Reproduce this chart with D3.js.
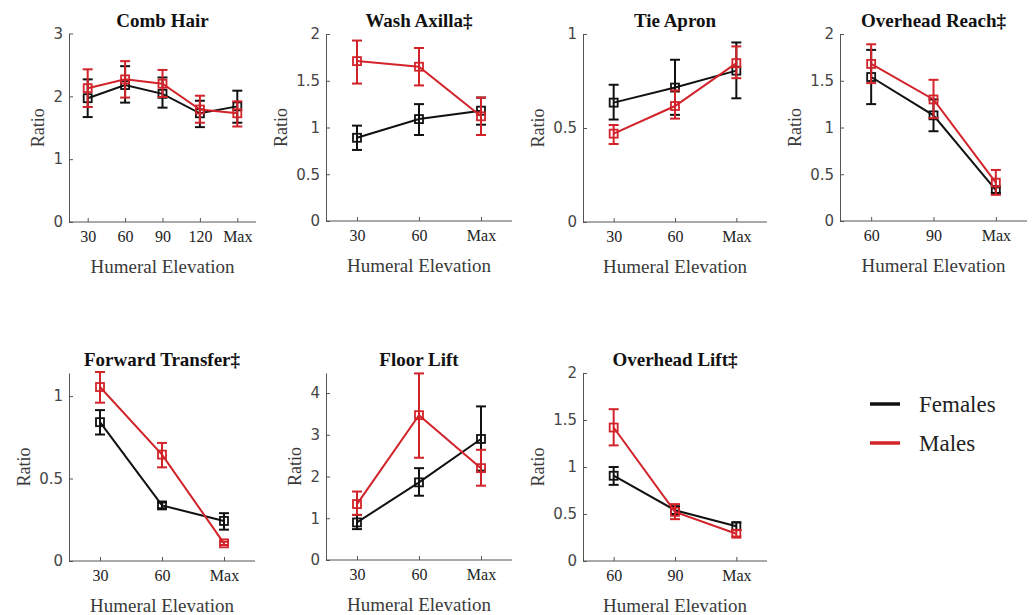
<!DOCTYPE html>
<html>
<head>
<meta charset="utf-8">
<script src="https://cdn.jsdelivr.net/npm/d3@7"></script>
<style>
  body { margin: 0; background: #fff; }
  svg { display: block; }
  .ytick text { font-family: "DejaVu Sans", Verdana, sans-serif; font-size: 15px; fill: #454545; }
  .xtick text { font-family: "Liberation Serif", "Times New Roman", serif; font-size: 16px; fill: #222; }
  .title { font-family: "Liberation Serif", "Times New Roman", serif; font-size: 19px; font-weight: bold; fill: #111; }
  .alabel { font-family: "Liberation Serif", "Times New Roman", serif; font-size: 19px; fill: #3a3a3a; }
  .ylabel { font-family: "Liberation Serif", "Times New Roman", serif; font-size: 18px; fill: #3a3a3a; }
  .legend { font-family: "Liberation Serif", "Times New Roman", serif; font-size: 23px; fill: #222; }
</style>
</head>
<body>
<div id="chart"></div>
<script>
'use strict';

// ---- data ----
const seriesNames = ['Females', 'Males'];

const combHairCats = ['30', '60', '90', '120', 'Max'];
const combHairF    = [1.97, 2.18, 2.04, 1.73, 1.84];
const combHairFLo  = [1.67, 1.90, 1.82, 1.51, 1.58];
const combHairFHi  = [2.27, 2.48, 2.30, 1.93, 2.09];
const combHairM    = [2.13, 2.27, 2.20, 1.79, 1.73];
const combHairMLo  = [1.83, 1.98, 1.99, 1.58, 1.52];
const combHairMHi  = [2.43, 2.56, 2.42, 2.01, 1.92];

const washAxillaCats = ['30', '60', 'Max'];
const washAxillaF    = [0.89, 1.09, 1.18];
const washAxillaFLo  = [0.76, 0.92, 1.03];
const washAxillaFHi  = [1.02, 1.25, 1.32];
const washAxillaM    = [1.71, 1.65, 1.12];
const washAxillaMLo  = [1.47, 1.45, 0.92];
const washAxillaMHi  = [1.93, 1.85, 1.32];

const tieApronCats = ['30', '60', 'Max'];
const tieApronF    = [0.635, 0.715, 0.805];
const tieApronFLo  = [0.545, 0.570, 0.658];
const tieApronFHi  = [0.730, 0.863, 0.955];
const tieApronM    = [0.470, 0.617, 0.845];
const tieApronMLo  = [0.415, 0.550, 0.765];
const tieApronMHi  = [0.516, 0.700, 0.934];

const ohReachCats = ['60', '90', 'Max'];
const ohReachF    = [1.54, 1.13, 0.33];
const ohReachFLo  = [1.25, 0.96, 0.30];
const ohReachFHi  = [1.83, 1.30, 0.36];
const ohReachM    = [1.68, 1.30, 0.41];
const ohReachMLo  = [1.475, 1.10, 0.28];
const ohReachMHi  = [1.89, 1.51, 0.546];

const fwdTransferCats = ['30', '60', 'Max'];
const fwdTransferF    = [0.842, 0.337, 0.243];
const fwdTransferFLo  = [0.767, 0.320, 0.190];
const fwdTransferFHi  = [0.915, 0.355, 0.290];
const fwdTransferM    = [1.055, 0.645, 0.107];
const fwdTransferMLo  = [0.960, 0.568, 0.097];
const fwdTransferMHi  = [1.146, 0.716, 0.117];

const floorLiftCats = ['30', '60', 'Max'];
const floorLiftF    = [0.90, 1.86, 2.90];
const floorLiftFLo  = [0.74, 1.54, 2.14];
const floorLiftFHi  = [1.08, 2.20, 3.68];
const floorLiftM    = [1.34, 3.47, 2.20];
const floorLiftMLo  = [1.08, 2.45, 1.78];
const floorLiftMHi  = [1.64, 4.47, 2.64];

const ohLiftCats = ['60', '90', 'Max'];
const ohLiftF    = [0.907, 0.54, 0.37];
const ohLiftFLo  = [0.81, 0.50, 0.33];
const ohLiftFHi  = [1.00, 0.58, 0.41];
const ohLiftM    = [1.42, 0.523, 0.29];
const ohLiftMLo  = [1.23, 0.445, 0.26];
const ohLiftMHi  = [1.615, 0.605, 0.33];

// ---- panels: data + where they sit ----
function pack (name, cats, yMax, yTicks, f, fLo, fHi, m, mLo, mHi)
{
    return { name, cats, yMax, yTicks,
             series: [ { mean: f, lo: fLo, hi: fHi }, { mean: m, lo: mLo, hi: mHi } ] };
}

const panels = [
    pack('Comb Hair', combHairCats, 3, [0, 1, 2, 3], combHairF, combHairFLo, combHairFHi, combHairM, combHairMLo, combHairMHi),
    pack('Wash Axilla\u2021', washAxillaCats, 2, [0, 0.5, 1, 1.5, 2], washAxillaF, washAxillaFLo, washAxillaFHi, washAxillaM, washAxillaMLo, washAxillaMHi),
    pack('Tie Apron', tieApronCats, 1, [0, 0.5, 1], tieApronF, tieApronFLo, tieApronFHi, tieApronM, tieApronMLo, tieApronMHi),
    pack('Overhead Reach\u2021', ohReachCats, 2, [0, 0.5, 1, 1.5, 2], ohReachF, ohReachFLo, ohReachFHi, ohReachM, ohReachMLo, ohReachMHi),
    pack('Forward Transfer\u2021', fwdTransferCats, 1.14, [0, 0.5, 1], fwdTransferF, fwdTransferFLo, fwdTransferFHi, fwdTransferM, fwdTransferMLo, fwdTransferMHi),
    pack('Floor Lift', floorLiftCats, 4.48, [0, 1, 2, 3, 4], floorLiftF, floorLiftFLo, floorLiftFHi, floorLiftM, floorLiftMLo, floorLiftMHi),
    pack('Overhead Lift\u2021', ohLiftCats, 2, [0, 0.5, 1, 1.5, 2], ohLiftF, ohLiftFLo, ohLiftFHi, ohLiftM, ohLiftMLo, ohLiftMHi)
];

// plot boxes [x0, x1, yTop, yBottom]
const boxes = [
    [69, 256, 33.5, 222], [326, 512, 34, 221], [583, 767, 34, 222], [840, 1027, 34, 221],
    [69, 255, 373, 561], [326, 512, 373, 560], [583, 767, 373, 561]
];

const colors = ['#111111', '#d2232a'];
const W = 1032, H = 615;

const svg = d3.select('#chart').append('svg')
    .attr('width', W)
    .attr('height', H);

panels.forEach((p, idx) =>
{
    let [x0, x1, yT, yB] = boxes[idx];

    let x = d3.scalePoint().domain(p.cats).range([x0, x1]).padding(0.5);
    let y = d3.scaleLinear().domain([0, p.yMax]).range([yB, yT]);

    let g = svg.append('g');

    // axes, MATLAB style: inward ticks, no box
    let yAx = g.append('g')
        .attr('class', 'ytick')
        .attr('transform', `translate(${x0},0)`)
        .call(d3.axisLeft(y).tickValues(p.yTicks).tickFormat(d3.format('~g'))
              .tickSizeInner(-4).tickSizeOuter(0).tickPadding(6));

    let xAx = g.append('g')
        .attr('class', 'xtick')
        .attr('transform', `translate(0,${yB})`)
        .call(d3.axisBottom(x).tickSizeInner(-4).tickSizeOuter(0).tickPadding(9));

    xAx.select('.domain').attr('d', `M${x0},0H${x1}`);
    [yAx, xAx].forEach(a =>
    {
        a.select('.domain').attr('stroke', '#555').attr('stroke-width', 1);
        a.selectAll('.tick line').attr('stroke', '#555');
    });

    // titles and labels
    g.append('text')
        .attr('class', 'title')
        .attr('x', (x0 + x1) / 2)
        .attr('y', yT - 7)
        .attr('text-anchor', 'middle')
        .text(p.name);

    g.append('text')
        .attr('class', 'alabel')
        .attr('x', (x0 + x1) / 2)
        .attr('y', yB + 51)
        .attr('text-anchor', 'middle')
        .text('Humeral Elevation');

    let tickLeft = d3.min(yAx.selectAll('text').nodes(), n => n.getBBox().x) + x0;
    g.append('text')
        .attr('class', 'ylabel')
        .attr('transform', `translate(${tickLeft - 9},${(yT + yB) / 2}) rotate(-90)`)
        .attr('text-anchor', 'middle')
        .text('Ratio');

    // series: line, error bars, hollow squares
    p.series.forEach((s, si) =>
    {
        let col = colors[si];
        let pts = p.cats.map((c, i) => ({ c, v: s.mean[i], lo: s.lo[i], hi: s.hi[i] }));
        let sg = g.append('g');

        sg.append('path')
            .datum(pts)
            .attr('fill', 'none')
            .attr('stroke', col)
            .attr('stroke-width', 2)
            .attr('d', d3.line().x(d => x(d.c)).y(d => y(d.v)));

        let eb = sg.selectAll('g.eb')
            .data(pts)
            .enter()
            .append('g')
            .attr('stroke', col)
            .attr('stroke-width', 2);

        eb.append('line')
            .attr('x1', d => x(d.c)).attr('x2', d => x(d.c))
            .attr('y1', d => y(d.lo)).attr('y2', d => y(d.hi));
        eb.append('line')
            .attr('x1', d => x(d.c) - 5).attr('x2', d => x(d.c) + 5)
            .attr('y1', d => y(d.lo)).attr('y2', d => y(d.lo));
        eb.append('line')
            .attr('x1', d => x(d.c) - 5).attr('x2', d => x(d.c) + 5)
            .attr('y1', d => y(d.hi)).attr('y2', d => y(d.hi));

        sg.selectAll('rect')
            .data(pts)
            .enter()
            .append('rect')
            .attr('x', d => x(d.c) - 4)
            .attr('y', d => y(d.v) - 4)
            .attr('width', 8)
            .attr('height', 8)
            .attr('fill', 'none')
            .attr('stroke', col)
            .attr('stroke-width', 1.8);
    });
});

// legend
const lg = svg.append('g').attr('transform', 'translate(870,404)');
seriesNames.forEach((name, i) =>
{
    lg.append('line')
        .attr('x1', 0).attr('x2', 30)
        .attr('y1', i * 39).attr('y2', i * 39)
        .attr('stroke', colors[i])
        .attr('stroke-width', 3.5);
    lg.append('text')
        .attr('class', 'legend')
        .attr('x', 49)
        .attr('y', i * 39 + 8)
        .text(name);
});
</script>
</body>
</html>
